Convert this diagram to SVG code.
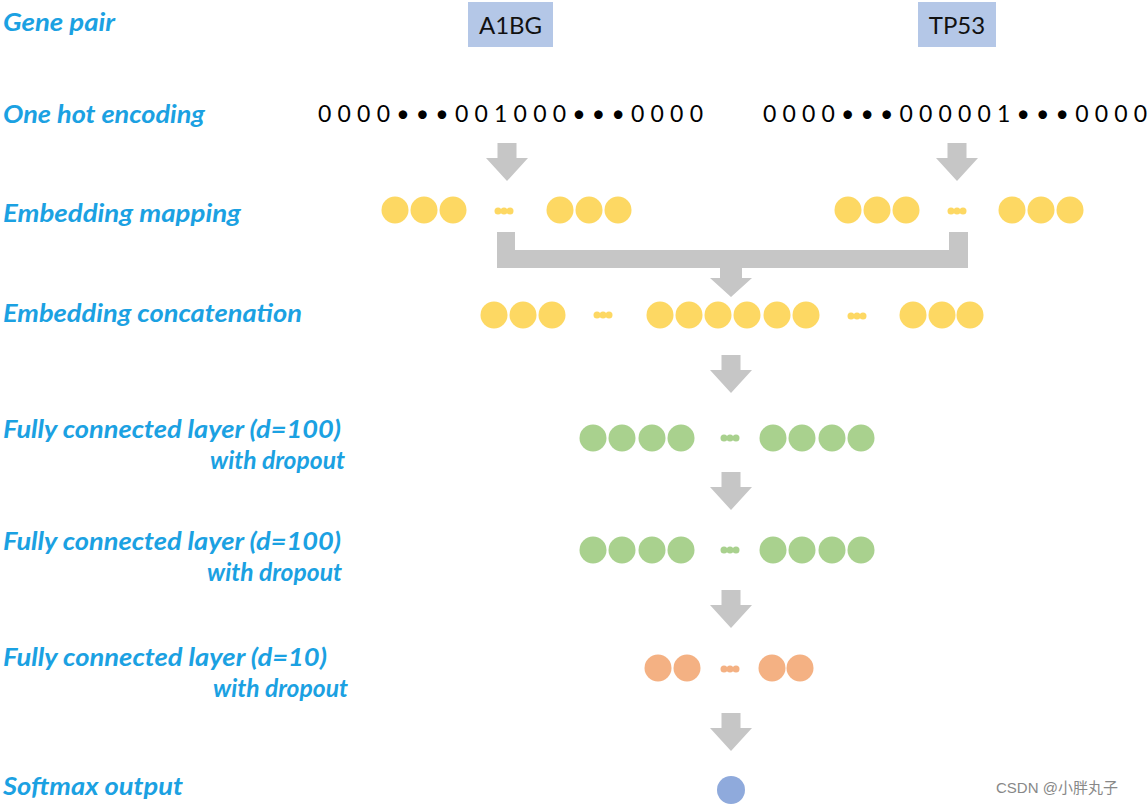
<svg xmlns="http://www.w3.org/2000/svg" width="1148" height="806" viewBox="0 0 1148 806">
<style>
.lbl{font-family:Lato,"Open Sans","Liberation Sans",sans-serif;font-weight:bold;font-style:italic;font-size:25px;fill:#1BA1E2}
.gene{font-family:Lato,"Open Sans","Liberation Sans",sans-serif;font-size:24px;fill:#111}
.oh{font-family:Lato,"Open Sans","Liberation Sans",sans-serif;font-size:23px;fill:#000}
.y{fill:#FDD863}
.g{fill:#A9D18E}
.o{fill:#F4B183}
.arr{fill:#C6C6C6}
.wm{font-family:"Liberation Sans","Noto Sans CJK SC",sans-serif;font-size:15px;fill:#888}
</style>
<defs>
<g id="dn"><path d="M-9.5,0 H9.5 V15 H21 L0,38 L-21,15 H-9.5 Z"/></g>
<g id="yd"><circle cx="-6" cy="0" r="3.5"/><circle cx="0" cy="0" r="3.5"/><circle cx="6" cy="0" r="3.5"/></g>
</defs>
<rect width="1148" height="806" fill="#fff"/>
<g id="labels">
<text class="lbl" x="3" y="31" textLength="112" lengthAdjust="spacingAndGlyphs">Gene pair</text>
<text class="lbl" x="3" y="123" textLength="202" lengthAdjust="spacingAndGlyphs">One hot encoding</text>
<text class="lbl" x="3" y="222" textLength="238" lengthAdjust="spacingAndGlyphs">Embedding mapping</text>
<text class="lbl" x="3" y="322" textLength="299" lengthAdjust="spacingAndGlyphs">Embedding concatenation</text>
<text class="lbl" x="3" y="438" textLength="338" lengthAdjust="spacingAndGlyphs">Fully connected layer (d=100)</text>
<text class="lbl" x="210" y="469" textLength="135" lengthAdjust="spacingAndGlyphs">with dropout</text>
<text class="lbl" x="3" y="550" textLength="338" lengthAdjust="spacingAndGlyphs">Fully connected layer (d=100)</text>
<text class="lbl" x="207" y="581" textLength="135" lengthAdjust="spacingAndGlyphs">with dropout</text>
<text class="lbl" x="3" y="666" textLength="324" lengthAdjust="spacingAndGlyphs">Fully connected layer (d=10)</text>
<text class="lbl" x="213" y="697" textLength="135" lengthAdjust="spacingAndGlyphs">with dropout</text>
<text class="lbl" x="3" y="795" textLength="180" lengthAdjust="spacingAndGlyphs">Softmax output</text>
</g>
<g id="gene-a1bg">
<rect x="468" y="2" width="85" height="45" fill="#B4C7E7"/>
<text class="gene" x="510.5" y="34" text-anchor="middle">A1BG</text>
</g>
<g id="gene-tp53">
<rect x="918" y="2" width="78" height="45" fill="#B4C7E7"/>
<text class="gene" x="957" y="34" text-anchor="middle">TP53</text>
</g>
<g id="onehot-a1bg">
<text class="oh" x="318" y="122" textLength="385" lengthAdjust="spacing">0000•••001000•••0000</text>
</g>
<g id="onehot-tp53">
<text class="oh" x="763" y="122" textLength="384" lengthAdjust="spacing">0000•••000001•••0000</text>
</g>
<g id="emb-a1bg" class="y">
<circle cx="395" cy="210" r="13.5"/><circle cx="424" cy="210" r="13.5"/><circle cx="453" cy="210" r="13.5"/>
<use href="#yd" x="504" y="211"/>
<circle cx="560" cy="210" r="13.5"/><circle cx="589" cy="210" r="13.5"/><circle cx="618" cy="210" r="13.5"/>
</g>
<g id="emb-tp53" class="y">
<circle cx="848" cy="210" r="13.5"/><circle cx="877" cy="210" r="13.5"/><circle cx="906" cy="210" r="13.5"/>
<use href="#yd" x="957" y="211"/>
<circle cx="1012" cy="210" r="13.5"/><circle cx="1041" cy="210" r="13.5"/><circle cx="1070" cy="210" r="13.5"/>
</g>
<g id="concat" class="y">
<circle cx="494" cy="315" r="13.5"/><circle cx="523" cy="315" r="13.5"/><circle cx="552" cy="315" r="13.5"/>
<use href="#yd" x="603" y="315"/>
<circle cx="660" cy="315" r="13.5"/><circle cx="689" cy="315" r="13.5"/><circle cx="718" cy="315" r="13.5"/><circle cx="747" cy="315" r="13.5"/><circle cx="777" cy="315" r="13.5"/><circle cx="806" cy="315" r="13.5"/>
<use href="#yd" x="857" y="316"/>
<circle cx="913" cy="315" r="13.5"/><circle cx="942" cy="315" r="13.5"/><circle cx="970" cy="315" r="13.5"/>
</g>
<g id="fc1" class="g">
<circle cx="593" cy="438" r="13.5"/><circle cx="622" cy="438" r="13.5"/><circle cx="652" cy="438" r="13.5"/><circle cx="681" cy="438" r="13.5"/>
<use href="#yd" x="730" y="438"/>
<circle cx="773" cy="438" r="13.5"/><circle cx="802" cy="438" r="13.5"/><circle cx="832" cy="438" r="13.5"/><circle cx="861" cy="438" r="13.5"/>
</g>
<g id="fc2" class="g">
<circle cx="593" cy="550" r="13.5"/><circle cx="622" cy="550" r="13.5"/><circle cx="652" cy="550" r="13.5"/><circle cx="681" cy="550" r="13.5"/>
<use href="#yd" x="730" y="550"/>
<circle cx="773" cy="550" r="13.5"/><circle cx="802" cy="550" r="13.5"/><circle cx="832" cy="550" r="13.5"/><circle cx="861" cy="550" r="13.5"/>
</g>
<g id="fc3" class="o">
<circle cx="658" cy="668" r="13.5"/><circle cx="687" cy="668" r="13.5"/>
<use href="#yd" x="730" y="669"/>
<circle cx="772" cy="668" r="13.5"/><circle cx="800" cy="668" r="13.5"/>
</g>
<g id="softmax">
<circle cx="731" cy="790" r="14" fill="#8FAADC"/>
</g>
<g id="connectors" class="arr">
<use href="#dn" x="507" y="143"/>
<use href="#dn" x="957" y="143"/>
<path d="M497,232 H515 V250 H949 V232 H968 V268 H742 V278 H752 L731,297 L710,278 H720 V268 H497 Z"/>
<use href="#dn" x="731" y="355"/>
<use href="#dn" x="731" y="472"/>
<use href="#dn" x="731" y="590"/>
<use href="#dn" x="731" y="713"/>
</g>
<text class="wm" x="996" y="793">CSDN @小胖丸子</text>
</svg>
